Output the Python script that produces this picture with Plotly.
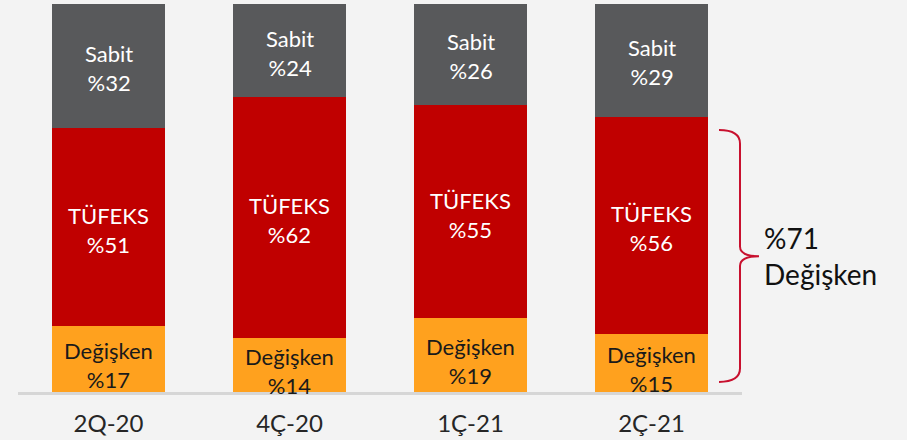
import plotly.graph_objects as go

categories = ["2Q-20", "4Ç-20", "1Ç-21", "2Ç-21"]
degisken = [17, 14, 19, 15]
tufeks = [51, 62, 55, 56]
sabit = [32, 24, 26, 29]

series = [
    ("Değişken", degisken, "#ffa11e", "#1a1a1a", -6),
    ("TÜFEKS", tufeks, "#c00000", "#ffffff", -3),
    ("Sabit", sabit, "#58595b", "#ffffff", -2),
]

bracket_text = "%71<br>Değişken"
bracket_top = 67.5
bracket_mid = 35.0
bracket_bot = 2.6

FONT = "Lato, 'Open Sans', sans-serif"

fig = go.Figure()
annotations = []
bases = [0] * len(categories)
for name, vals, color, tcolor, yshift in series:
    fig.add_trace(go.Bar(
        x=categories, y=vals, name=name, marker=dict(color=color, line=dict(width=0)),
        hoverinfo="skip",
    ))
    for i, (c, v) in enumerate(zip(categories, vals)):
        annotations.append(dict(
            x=c, y=bases[i] + v / 2, xref="x", yref="y",
            text=f"{name}<br>%{v}", showarrow=False,
            font=dict(family=FONT, size=22, color=tcolor),
            yshift=yshift, align="center",
        ))
        bases[i] += v

# bracket (paper coordinates: x domain spans plot area, y domain maps 0..100)
L, R = 18, 742
W = R - L
def px(xp):
    return (xp - L) / W

def py(v):
    return v / 100.0

x0, x1, x2 = px(719), px(740), px(759)
yt, ym, yb = py(bracket_top), py(bracket_mid), py(bracket_bot)
d = 0.035
path = (f"M {x0},{yt} Q {x1},{yt} {x1},{yt - d} "
        f"L {x1},{ym + 0.025} Q {x1},{ym} {x2},{ym} "
        f"Q {x1},{ym} {x1},{ym - 0.025} "
        f"L {x1},{yb + d} Q {x1},{yb} {x0},{yb}")

fig.add_shape(type="path", path=path, xref="paper", yref="paper",
              line=dict(color="#c8102e", width=2))

annotations.append(dict(
    x=px(762), y=ym, xref="paper", yref="paper", text=bracket_text,
    showarrow=False, xanchor="left", yanchor="middle", align="left",
    font=dict(family=FONT, size=28, color="#111111"),
))

fig.update_layout(
    barmode="stack",
    bargap=0.376,
    width=907, height=440,
    margin=dict(l=L, r=907 - R, t=4, b=48),
    paper_bgcolor="#f3f3f3",
    plot_bgcolor="#f3f3f3",
    showlegend=False,
    annotations=annotations,
    font=dict(family=FONT),
)
fig.update_xaxes(
    range=[-0.5, 3.5], showline=True, linecolor="#d6d6d6", linewidth=3,
    ticks="", tickfont=dict(family=FONT, size=24, color="#262626"),
    ticklabelstandoff=8,
    showgrid=False, zeroline=False, fixedrange=True,
)
fig.update_yaxes(
    range=[0, 100], visible=False, showgrid=False, zeroline=False, fixedrange=True,
)

fig.write_html(
    "out.html",
    post_script="document.body.style.margin='0';document.body.style.background='#f3f3f3';",
    config={"displayModeBar": False},
)
